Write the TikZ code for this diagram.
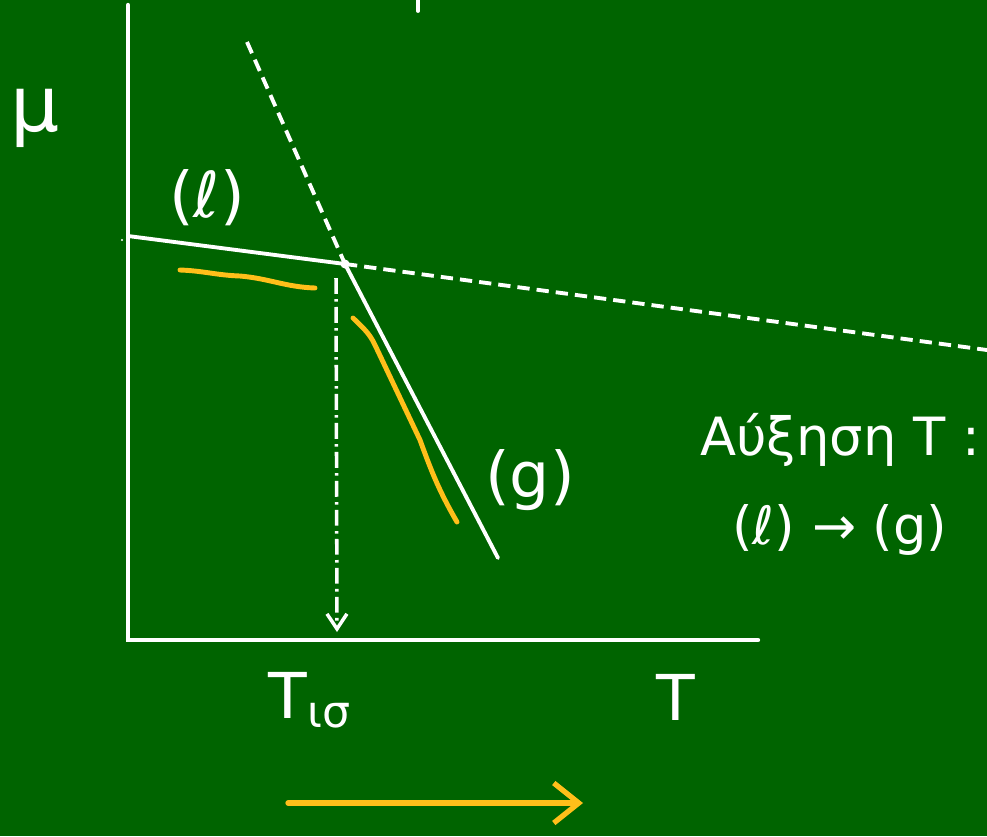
\documentclass[tikz,border=0pt]{standalone}
\usepackage{fontspec}
\setmainfont{DejaVu Sans}
\usepackage{xcolor}
\usetikzlibrary{calc,arrows.meta,positioning}
\definecolor{boardc}{HTML}{006400}
\definecolor{chalkc}{HTML}{FFFFFF}
\definecolor{markc}{HTML}{FFBF1A}
\tikzset{
  ax/.style={chalkc,line width=2.5pt,line cap=round},
  ln/.style={chalkc,line width=2.2pt,line cap=round},
  dln/.style={chalkc,line width=2.2pt,dash pattern=on 7pt off 4pt},
  hl/.style={markc,line width=2.8pt,line cap=round},
  lbl/.style={text=chalkc,font=\fontsize{30}{34}\selectfont,inner sep=1pt}
}

\begin{document}
\begin{tikzpicture}[x=0.02cm,y=-0.02cm]
\fill[boardc] (0,0) rectangle (987,836);
\useasboundingbox (0,0) rectangle (987,836);
% axes
\coordinate (o) at (128,640);
\coordinate (ytop) at (128,5);
\coordinate (xend) at (758,640);
\draw[ax] (ytop)--(o)--(xend);
% chemical potential lines
\coordinate (l0) at (128,236);
\coordinate (eq) at (345,264);
\coordinate (l1) at (987,350);
\coordinate (g0) at (247,42);
\coordinate (g1) at (498,558);
\draw[ln] (l0)--(eq);
\draw[dln] (eq)--(l1);
\draw[dln] (g0)--(eq);
\draw[ln] (eq)--(g1);
\fill[chalkc] (eq) circle (4.5);
\fill[chalkc] (122,240) circle (1.2);
\draw[ln] (418,0)--(418,11);
% drop to T axis
\coordinate (d0) at (336,278);
\coordinate (d1) at (337,632);
\draw[chalkc,line width=2pt,dash pattern=on 9pt off 3pt on 1.5pt off 3pt,-{Straight Barb[length=3mm,width=4mm,line width=2pt]}] (d0)--(d1);
% stable branches
\draw[hl] (180,270) to[out=-2,in=178] (240,276) to[out=-5,in=178] (315,288);
\draw[hl] (353,318) to[out=-45,in=115] (375,345) -- (420,440) to[out=-70,in=120] (457,522);
% labels
\node[lbl,font=\fontsize{44}{48}\selectfont] (mu) at (35,118) {μ};
\node[lbl,font=\fontsize{36}{40}\selectfont] (liq) at (207,198) {(ℓ)};
\node[lbl,font=\fontsize{36}{40}\selectfont] (gas) at (530,480) {(g)};
\node[lbl,font=\fontsize{36}{40}\selectfont] (tax) at (676,697) {T};
\node[lbl,font=\fontsize{36}{40}\selectfont] (teq) at (310,700) {T\textsubscript{ισ}};
\node[lbl] (incr) at (840,440) {Αύξηση T :};
\node[lbl] (trans) at (840,530) {(ℓ) → (g)};
% direction of T
\coordinate (a0) at (288,803);
\coordinate (a1) at (583,803);
\draw[hl,line width=3pt,-{Straight Barb[length=5mm,width=8mm,line width=3pt]}] (a0)--(a1);
\end{tikzpicture}
\end{document}
